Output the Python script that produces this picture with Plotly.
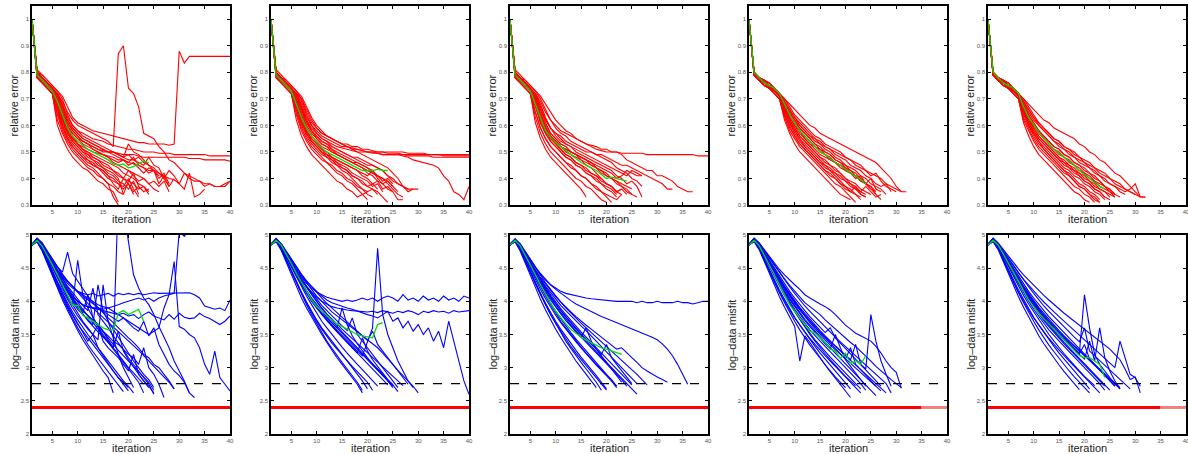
import plotly.graph_objects as go

W, H = 1188, 454

# ---------------- data: relative error (top row) ----------------
rel_err_col1 = [
    [1.0,0.80,0.78,0.76,0.74,0.72,0.69,0.65,0.62,0.60,0.59,0.58,0.57,0.56,0.55,0.54,0.52,0.87,0.90,0.74,0.72,0.67,0.57,0.56,0.55,0.52,0.50,0.47,0.46,0.44,0.42,0.40,0.39,0.39,0.38,0.38,0.37,0.37,0.37,0.39],
    [1.0,0.80,0.79,0.77,0.75,0.73,0.71,0.67,0.63,0.61,0.60,0.59,0.58,0.575,0.57,0.565,0.56,0.555,0.55,0.545,0.54,0.535,0.535,0.53,0.53,0.53,0.53,0.525,0.53,0.88,0.835,0.86,0.86,0.86,0.86,0.86,0.86,0.86,0.86,0.86],
    [1.0,0.79,0.78,0.76,0.74,0.72,0.68,0.63,0.60,0.58,0.57,0.56,0.55,0.545,0.54,0.53,0.525,0.52,0.515,0.51,0.51,0.505,0.50,0.50,0.50,0.495,0.495,0.495,0.49,0.49,0.49,0.49,0.49,0.49,0.49,0.485,0.485,0.485,0.485,0.485],
    [1.0,0.79,0.77,0.75,0.73,0.70,0.64,0.59,0.57,0.55,0.54,0.53,0.52,0.51,0.505,0.50,0.50,0.495,0.49,0.49,0.49,0.485,0.48,0.48,0.48,0.48,0.48,0.48,0.48,0.48,0.48,0.475,0.475,0.475,0.47,0.47,0.47,0.47,0.47,0.465],
    [1.0,0.79,0.77,0.75,0.73,0.69,0.63,0.58,0.55,0.53,0.52,0.51,0.50,0.495,0.49,0.485,0.48,0.47,0.47,0.46,0.455,0.45,0.44,0.43,0.43,0.42,0.41,0.40,0.395,0.38,0.42,0.41,0.40,0.39,0.37,0.38,0.37,0.37,0.38,0.39],
    [1.0,0.78,0.76,0.74,0.72,0.62,0.57,0.53,0.50,0.48,0.46,0.44,0.43,0.41,0.40,0.38,0.37,0.35,0.34],
    [1.0,0.79,0.77,0.75,0.73,0.66,0.60,0.55,0.52,0.50,0.48,0.47,0.45,0.44,0.42,0.40,0.39,0.38,0.36,0.38,0.35,0.37],
    [1.0,0.80,0.78,0.76,0.74,0.71,0.65,0.60,0.57,0.55,0.53,0.52,0.51,0.50,0.49,0.48,0.46,0.45,0.44,0.43,0.42,0.41,0.40,0.38,0.39,0.37,0.39,0.35],
    [1.0,0.80,0.78,0.76,0.74,0.72,0.68,0.62,0.59,0.57,0.55,0.54,0.53,0.52,0.51,0.50,0.50,0.49,0.48,0.53,0.50,0.49,0.47,0.45,0.44,0.42,0.40,0.43,0.41,0.38,0.36,0.42,0.33,0.34,0.36],
    [1.0,0.78,0.76,0.74,0.72,0.64,0.58,0.54,0.51,0.49,0.47,0.45,0.44,0.42,0.40,0.38,0.33,0.30],
    [1.0,0.79,0.77,0.75,0.73,0.70,0.64,0.59,0.56,0.53,0.51,0.50,0.48,0.47,0.46,0.45,0.43,0.42,0.40,0.43,0.41,0.39,0.40,0.38,0.36,0.35],
    [1.0,0.79,0.77,0.75,0.73,0.67,0.61,0.57,0.54,0.52,0.50,0.49,0.47,0.46,0.44,0.43,0.42,0.40,0.34,0.39,0.38,0.36,0.37,0.34],
    [1.0,0.80,0.78,0.76,0.74,0.72,0.67,0.61,0.58,0.56,0.54,0.53,0.51,0.50,0.49,0.48,0.47,0.46,0.47,0.45,0.46,0.44,0.42,0.44,0.43,0.38,0.41,0.37,0.40],
    [1.0,0.78,0.76,0.74,0.72,0.60,0.55,0.51,0.48,0.46,0.44,0.43,0.41,0.39,0.38,0.36,0.35,0.31],
    [1.0,0.80,0.78,0.76,0.74,0.70,0.63,0.58,0.55,0.53,0.51,0.50,0.49,0.48,0.47,0.46,0.45,0.44,0.42,0.41,0.40,0.38,0.37,0.35],
    [1.0,0.79,0.77,0.75,0.73,0.68,0.62,0.57,0.54,0.52,0.50,0.48,0.47,0.45,0.44,0.42,0.41,0.39,0.38,0.36,0.39,0.34],
    [1.0,0.81,0.79,0.77,0.75,0.73,0.70,0.64,0.60,0.58,0.56,0.55,0.54,0.53,0.52,0.51,0.50,0.49,0.48,0.49,0.47,0.48,0.46,0.45,0.43,0.40,0.42,0.38],
    [1.0,0.78,0.76,0.74,0.72,0.65,0.59,0.55,0.52,0.50,0.48,0.46,0.45,0.44,0.43,0.41,0.40,0.38,0.37,0.40,0.36,0.33],
    [1.0,0.80,0.78,0.76,0.74,0.71,0.66,0.61,0.58,0.56,0.54,0.53,0.52,0.51,0.50,0.50,0.49,0.48,0.47,0.46,0.48,0.45,0.44,0.42,0.43,0.41],
    [1.0,0.79,0.77,0.75,0.73,0.69,0.62,0.58,0.55,0.53,0.51,0.49,0.48,0.47,0.45,0.44,0.43,0.41,0.40,0.39,0.42,0.37,0.35,0.36],
    [1.0,0.79,0.77,0.75,0.73,0.67,0.60,0.56,0.53,0.51,0.49,0.47,0.46,0.44,0.43,0.41,0.38,0.36,0.40,0.38,0.34],
    [1.0,0.80,0.78,0.76,0.74,0.72,0.67,0.62,0.59,0.57,0.55,0.54,0.53,0.52,0.51,0.50,0.50,0.49,0.48,0.47,0.47,0.46,0.45,0.48,0.45,0.44,0.40,0.37],
]
rel_err_mean_col1 = [1.0,0.79,0.77,0.75,0.73,0.69,0.64,0.59,0.56,0.54,0.525,0.51,0.50,0.49,0.48,0.47,0.455,0.45,0.455,0.44,0.445,0.455,0.465,0.46]

rel_err_col2 = [
    [1.0,0.80,0.78,0.77,0.75,0.73,0.71,0.67,0.63,0.60,0.58,0.56,0.55,0.54,0.53,0.53,0.52,0.52,0.51,0.51,0.505,0.50,0.50,0.50,0.50,0.50,0.50,0.495,0.495,0.495,0.495,0.49,0.49,0.49,0.49,0.49,0.49,0.49,0.49,0.49],
    [1.0,0.79,0.78,0.76,0.74,0.72,0.69,0.64,0.60,0.58,0.56,0.55,0.54,0.53,0.52,0.52,0.51,0.51,0.505,0.50,0.50,0.50,0.50,0.495,0.495,0.495,0.49,0.49,0.49,0.49,0.49,0.49,0.49,0.49,0.485,0.485,0.485,0.485,0.485,0.485],
    [1.0,0.79,0.77,0.75,0.73,0.71,0.67,0.62,0.59,0.57,0.55,0.54,0.53,0.52,0.515,0.51,0.505,0.50,0.50,0.50,0.495,0.495,0.49,0.49,0.49,0.49,0.49,0.485,0.485,0.485,0.485,0.485,0.48,0.48,0.48,0.48,0.48,0.48,0.48,0.48],
    [1.0,0.80,0.78,0.76,0.74,0.72,0.70,0.65,0.61,0.59,0.57,0.56,0.55,0.54,0.53,0.52,0.515,0.51,0.505,0.50,0.50,0.495,0.49,0.49,0.49,0.49,0.485,0.48,0.47,0.465,0.46,0.455,0.45,0.44,0.41,0.39,0.35,0.34,0.32,0.37],
    [1.0,0.79,0.77,0.75,0.73,0.70,0.66,0.61,0.58,0.56,0.54,0.53,0.52,0.51,0.50,0.49,0.48,0.48,0.47,0.46,0.45,0.44,0.43,0.41,0.39,0.38,0.37,0.36,0.36,0.36],
    [1.0,0.78,0.76,0.74,0.72,0.64,0.58,0.54,0.51,0.49,0.47,0.46,0.44,0.42,0.41,0.39,0.38,0.36,0.34,0.32],
    [1.0,0.79,0.77,0.75,0.73,0.67,0.61,0.57,0.54,0.52,0.50,0.49,0.47,0.46,0.44,0.43,0.41,0.40,0.39,0.37,0.36,0.35,0.33,0.31],
    [1.0,0.80,0.78,0.76,0.74,0.71,0.66,0.61,0.58,0.55,0.53,0.52,0.51,0.49,0.48,0.47,0.46,0.45,0.44,0.43,0.42,0.41,0.40,0.38,0.36,0.34,0.33],
    [1.0,0.79,0.77,0.75,0.73,0.69,0.63,0.58,0.55,0.53,0.51,0.50,0.48,0.47,0.46,0.45,0.44,0.43,0.41,0.40,0.38,0.39,0.36,0.37,0.35,0.32,0.32],
    [1.0,0.78,0.76,0.74,0.72,0.62,0.56,0.52,0.49,0.47,0.45,0.43,0.41,0.39,0.38,0.36,0.35,0.33,0.34,0.35],
    [1.0,0.80,0.78,0.76,0.74,0.72,0.68,0.63,0.60,0.57,0.55,0.54,0.52,0.51,0.50,0.49,0.48,0.47,0.46,0.45,0.45,0.44,0.43,0.41,0.40,0.38,0.37,0.35,0.36],
    [1.0,0.79,0.77,0.75,0.73,0.68,0.62,0.57,0.54,0.52,0.50,0.49,0.48,0.47,0.46,0.45,0.44,0.43,0.42,0.41,0.43,0.40,0.38,0.39,0.37],
    [1.0,0.79,0.77,0.75,0.73,0.66,0.60,0.56,0.53,0.51,0.49,0.48,0.46,0.45,0.43,0.42,0.40,0.38,0.36,0.35,0.36,0.34],
    [1.0,0.80,0.78,0.76,0.74,0.70,0.64,0.59,0.56,0.54,0.52,0.51,0.50,0.49,0.48,0.47,0.46,0.45,0.44,0.42,0.41,0.39,0.38,0.36,0.35],
    [1.0,0.79,0.77,0.75,0.73,0.68,0.61,0.57,0.54,0.52,0.50,0.48,0.47,0.45,0.44,0.43,0.41,0.40,0.38,0.37,0.38,0.36],
    [1.0,0.81,0.79,0.77,0.75,0.73,0.70,0.66,0.62,0.59,0.57,0.56,0.55,0.54,0.53,0.52,0.51,0.50,0.49,0.48,0.47,0.46,0.45,0.44,0.42,0.40,0.37,0.36],
    [1.0,0.78,0.76,0.74,0.72,0.65,0.59,0.55,0.52,0.50,0.48,0.46,0.45,0.43,0.42,0.40,0.39,0.37,0.36,0.34,0.33],
    [1.0,0.80,0.78,0.76,0.74,0.71,0.65,0.60,0.57,0.55,0.53,0.52,0.50,0.49,0.48,0.47,0.46,0.46,0.45,0.44,0.43,0.41,0.40,0.39,0.37,0.35],
    [1.0,0.79,0.77,0.75,0.73,0.69,0.63,0.58,0.55,0.53,0.51,0.49,0.48,0.46,0.45,0.44,0.42,0.41,0.40,0.39,0.37,0.38,0.35],
    [1.0,0.80,0.78,0.76,0.74,0.72,0.67,0.62,0.58,0.56,0.54,0.53,0.51,0.50,0.49,0.48,0.47,0.46,0.45,0.44,0.42,0.41,0.39,0.40,0.38],
]
rel_err_mean_col2 = [1.0,0.79,0.77,0.75,0.73,0.68,0.63,0.59,0.56,0.535,0.515,0.50,0.49,0.48,0.47,0.46,0.45,0.44,0.43,0.43,0.43,0.435,0.43,0.43]

rel_err_col3 = [
    [1.0,0.80,0.78,0.77,0.75,0.73,0.71,0.68,0.65,0.62,0.60,0.58,0.57,0.55,0.54,0.53,0.52,0.51,0.505,0.50,0.50,0.50,0.495,0.495,0.495,0.495,0.495,0.49,0.49,0.49,0.49,0.49,0.49,0.49,0.49,0.49,0.49,0.485,0.485,0.485],
    [1.0,0.80,0.78,0.76,0.74,0.72,0.69,0.65,0.62,0.60,0.58,0.57,0.56,0.55,0.54,0.53,0.525,0.52,0.51,0.51,0.50,0.50,0.49,0.47,0.46,0.45,0.44,0.43,0.43,0.41,0.41,0.40,0.39,0.37,0.36,0.35,0.35],
    [1.0,0.79,0.78,0.76,0.74,0.71,0.67,0.62,0.59,0.57,0.56,0.54,0.53,0.52,0.51,0.50,0.50,0.49,0.49,0.48,0.47,0.46,0.45,0.45,0.44,0.43,0.42,0.41,0.40,0.39,0.38,0.36,0.36],
    [1.0,0.79,0.77,0.75,0.73,0.69,0.64,0.59,0.56,0.54,0.52,0.51,0.50,0.49,0.48,0.47,0.46,0.45,0.44,0.43,0.42,0.40,0.41,0.43,0.42,0.41,0.41],
    [1.0,0.78,0.76,0.74,0.72,0.63,0.57,0.53,0.50,0.48,0.46,0.44,0.42,0.40,0.39,0.37,0.36,0.34,0.32,0.31],
    [1.0,0.79,0.77,0.75,0.73,0.67,0.61,0.57,0.54,0.52,0.50,0.48,0.47,0.45,0.44,0.42,0.41,0.40,0.38,0.36,0.35,0.33],
    [1.0,0.79,0.77,0.75,0.73,0.65,0.59,0.55,0.52,0.50,0.48,0.46,0.45,0.43,0.41,0.40,0.38,0.37,0.35,0.34,0.33,0.32,0.34],
    [1.0,0.80,0.78,0.76,0.74,0.71,0.66,0.61,0.57,0.55,0.53,0.52,0.50,0.49,0.48,0.47,0.46,0.44,0.43,0.41,0.40,0.39,0.37,0.36,0.34,0.33],
    [1.0,0.79,0.77,0.75,0.73,0.70,0.64,0.59,0.56,0.54,0.52,0.50,0.49,0.48,0.47,0.45,0.44,0.42,0.40,0.38,0.37,0.35,0.36,0.34],
    [1.0,0.78,0.76,0.74,0.72,0.61,0.55,0.51,0.48,0.46,0.44,0.42,0.40,0.38,0.36,0.33],
    [1.0,0.80,0.78,0.76,0.74,0.72,0.67,0.62,0.59,0.56,0.54,0.53,0.52,0.50,0.49,0.48,0.47,0.46,0.45,0.44,0.43,0.41,0.40,0.38,0.39,0.37,0.33],
    [1.0,0.79,0.77,0.75,0.73,0.68,0.62,0.58,0.55,0.53,0.51,0.49,0.48,0.46,0.45,0.43,0.42,0.41,0.40,0.38,0.37,0.35,0.36],
    [1.0,0.80,0.78,0.76,0.74,0.70,0.64,0.59,0.56,0.54,0.52,0.51,0.50,0.49,0.47,0.46,0.45,0.44,0.42,0.41,0.40,0.38,0.37,0.35,0.34],
    [1.0,0.79,0.77,0.75,0.73,0.68,0.61,0.57,0.54,0.52,0.50,0.48,0.47,0.45,0.44,0.42,0.41,0.39,0.38,0.37,0.36,0.34],
    [1.0,0.81,0.79,0.77,0.75,0.73,0.70,0.66,0.62,0.59,0.57,0.56,0.54,0.53,0.52,0.51,0.50,0.49,0.48,0.47,0.46,0.44,0.43,0.42,0.40,0.39,0.37],
    [1.0,0.78,0.76,0.74,0.72,0.65,0.59,0.55,0.52,0.50,0.48,0.46,0.44,0.43,0.41,0.40,0.38,0.36,0.35,0.33,0.31],
    [1.0,0.80,0.78,0.76,0.74,0.71,0.65,0.60,0.57,0.55,0.53,0.52,0.50,0.49,0.48,0.47,0.45,0.44,0.43,0.42,0.40,0.39,0.38,0.37,0.36],
    [1.0,0.79,0.77,0.75,0.73,0.69,0.63,0.58,0.55,0.53,0.51,0.49,0.48,0.46,0.45,0.44,0.42,0.41,0.39,0.38,0.37,0.35,0.34],
    [1.0,0.80,0.78,0.76,0.74,0.72,0.68,0.63,0.59,0.57,0.55,0.53,0.52,0.51,0.50,0.49,0.48,0.47,0.46,0.45,0.44,0.43,0.42,0.41,0.43,0.42,0.41],
]
rel_err_mean_col3 = [1.0,0.79,0.77,0.75,0.73,0.68,0.63,0.58,0.555,0.535,0.52,0.505,0.49,0.475,0.46,0.45,0.44,0.43,0.415,0.40,0.405,0.40,0.395,0.39]

rel_err_col4 = [
    [1.0,0.80,0.78,0.77,0.76,0.74,0.72,0.70,0.68,0.66,0.64,0.62,0.60,0.59,0.57,0.56,0.55,0.54,0.53,0.52,0.51,0.50,0.49,0.48,0.47,0.46,0.44,0.42,0.40,0.37,0.35,0.35],
    [1.0,0.80,0.78,0.76,0.75,0.73,0.72,0.67,0.63,0.60,0.57,0.55,0.53,0.51,0.49,0.48,0.47,0.46,0.44,0.43,0.42,0.41,0.39,0.38,0.36],
    [1.0,0.79,0.77,0.76,0.74,0.73,0.71,0.65,0.61,0.57,0.54,0.52,0.50,0.48,0.46,0.44,0.43,0.41,0.39,0.37,0.36,0.34,0.33],
    [1.0,0.80,0.78,0.77,0.75,0.74,0.72,0.69,0.66,0.63,0.61,0.59,0.57,0.55,0.54,0.52,0.51,0.50,0.49,0.48,0.47,0.45,0.44,0.43,0.41,0.42,0.39,0.37,0.36,0.35],
    [1.0,0.79,0.77,0.75,0.74,0.72,0.70,0.63,0.58,0.55,0.52,0.50,0.48,0.46,0.44,0.42,0.40,0.38,0.37,0.35,0.33,0.31],
    [1.0,0.80,0.78,0.76,0.75,0.73,0.71,0.66,0.62,0.59,0.56,0.54,0.52,0.50,0.48,0.47,0.45,0.44,0.42,0.40,0.38,0.37,0.35,0.34],
    [1.0,0.80,0.78,0.77,0.75,0.74,0.72,0.68,0.64,0.61,0.59,0.57,0.55,0.53,0.51,0.50,0.49,0.47,0.46,0.45,0.43,0.42,0.40,0.38,0.37,0.34,0.32],
    [1.0,0.79,0.77,0.76,0.74,0.73,0.71,0.64,0.60,0.56,0.53,0.51,0.49,0.47,0.45,0.43,0.41,0.40,0.38,0.36,0.35,0.37,0.34,0.33],
    [1.0,0.80,0.78,0.77,0.76,0.74,0.72,0.70,0.67,0.64,0.62,0.60,0.58,0.56,0.55,0.53,0.52,0.51,0.50,0.48,0.47,0.46,0.45,0.43,0.42,0.41,0.40,0.38,0.37,0.36,0.35],
    [1.0,0.79,0.77,0.75,0.74,0.72,0.70,0.62,0.57,0.53,0.50,0.48,0.46,0.44,0.42,0.40,0.38,0.36,0.34,0.33,0.32],
    [1.0,0.80,0.78,0.76,0.75,0.73,0.71,0.67,0.63,0.60,0.58,0.55,0.53,0.52,0.50,0.49,0.47,0.46,0.45,0.43,0.42,0.40,0.41,0.38,0.36,0.34],
    [1.0,0.79,0.77,0.76,0.74,0.73,0.71,0.66,0.62,0.58,0.55,0.53,0.51,0.49,0.47,0.45,0.44,0.42,0.41,0.39,0.38,0.36,0.35,0.37,0.35,0.33,0.34],
    [1.0,0.80,0.78,0.77,0.75,0.74,0.72,0.68,0.65,0.62,0.59,0.57,0.55,0.53,0.52,0.50,0.49,0.47,0.46,0.44,0.43,0.41,0.40,0.38,0.37,0.35],
    [1.0,0.79,0.77,0.76,0.74,0.73,0.71,0.65,0.61,0.58,0.55,0.52,0.50,0.48,0.46,0.45,0.43,0.42,0.40,0.39,0.37,0.36,0.34,0.33],
    [1.0,0.80,0.78,0.77,0.76,0.74,0.72,0.69,0.66,0.63,0.60,0.58,0.56,0.54,0.53,0.51,0.50,0.48,0.47,0.45,0.44,0.43,0.41,0.40,0.38,0.37,0.36,0.34],
    [1.0,0.79,0.77,0.75,0.74,0.72,0.70,0.64,0.59,0.56,0.53,0.51,0.49,0.47,0.45,0.43,0.42,0.40,0.38,0.37,0.35,0.34,0.32],
    [1.0,0.80,0.78,0.76,0.75,0.73,0.71,0.67,0.64,0.61,0.58,0.56,0.54,0.52,0.51,0.49,0.48,0.46,0.45,0.44,0.42,0.41,0.39,0.38,0.40,0.36,0.35],
    [1.0,0.80,0.78,0.77,0.75,0.74,0.72,0.69,0.65,0.62,0.60,0.58,0.56,0.55,0.53,0.52,0.51,0.49,0.48,0.47,0.45,0.44,0.43,0.41,0.40,0.38,0.37,0.38,0.35],
    [1.0,0.79,0.77,0.76,0.74,0.73,0.71,0.66,0.62,0.59,0.56,0.54,0.52,0.50,0.48,0.46,0.45,0.43,0.42,0.40,0.39,0.38,0.36,0.35,0.34],
]
rel_err_mean_col4 = [1.0,0.80,0.78,0.76,0.75,0.74,0.72,0.68,0.64,0.61,0.58,0.56,0.54,0.52,0.50,0.49,0.475,0.46,0.45,0.435,0.42,0.41,0.395,0.38]

rel_err_col5 = [
    [1.0,0.80,0.78,0.77,0.76,0.74,0.72,0.70,0.68,0.66,0.64,0.62,0.61,0.59,0.58,0.57,0.56,0.55,0.53,0.52,0.50,0.49,0.47,0.46,0.44,0.42,0.41,0.39,0.37,0.35,0.33,0.33],
    [1.0,0.80,0.78,0.76,0.75,0.73,0.72,0.66,0.62,0.59,0.56,0.54,0.52,0.50,0.48,0.47,0.45,0.44,0.42,0.41,0.39,0.38,0.36,0.35,0.33],
    [1.0,0.79,0.77,0.76,0.74,0.73,0.71,0.64,0.60,0.56,0.53,0.51,0.49,0.47,0.45,0.43,0.41,0.39,0.37,0.36,0.34,0.32,0.31],
    [1.0,0.80,0.78,0.77,0.75,0.74,0.72,0.69,0.65,0.62,0.60,0.58,0.56,0.54,0.53,0.51,0.50,0.48,0.47,0.46,0.44,0.43,0.41,0.40,0.38,0.37,0.36,0.35,0.36,0.38,0.33],
    [1.0,0.79,0.77,0.75,0.74,0.72,0.70,0.62,0.58,0.54,0.51,0.49,0.47,0.45,0.43,0.41,0.39,0.37,0.36,0.34,0.33,0.31],
    [1.0,0.80,0.78,0.76,0.75,0.73,0.71,0.66,0.61,0.58,0.55,0.53,0.51,0.49,0.47,0.46,0.44,0.43,0.41,0.39,0.38,0.36,0.35,0.33,0.32],
    [1.0,0.80,0.78,0.77,0.75,0.74,0.72,0.68,0.64,0.61,0.58,0.56,0.54,0.52,0.51,0.49,0.48,0.46,0.45,0.44,0.42,0.41,0.39,0.37,0.36,0.34,0.33],
    [1.0,0.79,0.77,0.76,0.74,0.73,0.71,0.65,0.60,0.57,0.54,0.51,0.49,0.47,0.45,0.43,0.42,0.40,0.38,0.37,0.35,0.34,0.32],
    [1.0,0.80,0.78,0.77,0.76,0.74,0.72,0.70,0.67,0.64,0.61,0.59,0.57,0.55,0.54,0.52,0.51,0.49,0.48,0.46,0.45,0.44,0.42,0.41,0.40,0.38,0.37,0.36,0.35,0.34],
    [1.0,0.79,0.77,0.75,0.74,0.72,0.70,0.61,0.56,0.52,0.49,0.47,0.45,0.43,0.41,0.39,0.37,0.35,0.34,0.32,0.31],
    [1.0,0.80,0.78,0.76,0.75,0.73,0.71,0.67,0.63,0.60,0.57,0.55,0.53,0.51,0.49,0.48,0.46,0.45,0.43,0.42,0.40,0.39,0.37,0.36,0.35,0.33],
    [1.0,0.79,0.77,0.76,0.74,0.73,0.71,0.67,0.63,0.59,0.56,0.54,0.52,0.50,0.48,0.46,0.45,0.43,0.42,0.40,0.39,0.37,0.36,0.35,0.34,0.33],
    [1.0,0.80,0.78,0.77,0.75,0.74,0.72,0.68,0.64,0.61,0.58,0.56,0.54,0.52,0.51,0.49,0.48,0.46,0.45,0.43,0.42,0.40,0.39,0.37,0.36,0.34],
    [1.0,0.79,0.77,0.76,0.74,0.73,0.71,0.65,0.61,0.57,0.54,0.52,0.50,0.48,0.46,0.44,0.43,0.41,0.40,0.38,0.37,0.35,0.34,0.32],
    [1.0,0.80,0.78,0.77,0.76,0.74,0.72,0.69,0.66,0.63,0.60,0.58,0.56,0.54,0.52,0.51,0.49,0.48,0.46,0.45,0.44,0.42,0.41,0.39,0.38,0.37,0.35,0.34],
    [1.0,0.79,0.77,0.75,0.74,0.72,0.70,0.63,0.59,0.55,0.52,0.50,0.48,0.46,0.44,0.42,0.41,0.39,0.37,0.36,0.34,0.33,0.31],
    [1.0,0.80,0.78,0.76,0.75,0.73,0.71,0.67,0.63,0.60,0.58,0.55,0.53,0.51,0.50,0.48,0.47,0.45,0.44,0.42,0.41,0.39,0.38,0.37,0.35,0.34],
    [1.0,0.80,0.78,0.77,0.75,0.74,0.72,0.69,0.66,0.63,0.61,0.59,0.57,0.55,0.54,0.52,0.51,0.50,0.48,0.47,0.46,0.44,0.43,0.42,0.40,0.39,0.38,0.36,0.35,0.34,0.33,0.33],
    [1.0,0.79,0.77,0.76,0.74,0.73,0.71,0.66,0.62,0.58,0.55,0.53,0.51,0.49,0.47,0.45,0.44,0.42,0.41,0.39,0.38,0.36,0.35,0.33],
]
rel_err_mean_col5 = [1.0,0.80,0.78,0.76,0.75,0.74,0.72,0.67,0.63,0.60,0.575,0.55,0.53,0.51,0.495,0.48,0.465,0.45,0.43,0.415,0.40,0.385,0.37,0.36]

# ---------------- data: log-data misfit (bottom row) ----------------
misfit_col1 = [
    [4.85,4.95,4.88,4.74,4.58,4.42,4.28,4.15,4.02,3.92,3.85,3.78,3.72,3.66,3.55,3.42,3.30,5.60,5.40,4.90,4.40,4.20,4.05,3.95,3.80,3.62,3.45,3.30,3.10,2.95,2.80,2.62],
    [4.85,4.93,4.86,4.72,4.57,4.43,4.30,4.18,4.08,4.00,3.95,3.92,3.90,3.90,3.88,3.90,3.92,3.95,3.98,4.00,4.02,4.05,4.02,4.05,4.00,4.05,4.08,4.10,4.12,5.05,4.98,5.10,5.30,5.30,5.30,5.30,5.30,5.30,5.30,5.30],
    [4.86,4.93,4.85,4.72,4.58,4.46,4.36,4.27,4.20,4.15,4.12,4.10,4.12,4.08,4.10,4.12,4.08,4.12,4.10,4.12,4.10,4.12,4.10,4.12,4.13,4.12,4.12,4.12,4.13,4.12,4.12,4.13,4.10,4.05,3.93,3.90,3.88,3.90,3.86,4.02],
    [4.84,4.92,4.83,4.68,4.52,4.38,4.26,4.15,4.06,4.00,3.95,3.92,3.90,3.88,3.86,3.85,3.82,3.80,3.82,3.78,3.80,3.74,3.80,3.84,3.78,3.75,3.72,3.80,3.73,3.82,3.76,3.74,3.75,3.82,3.77,3.74,3.70,3.65,3.70,3.78],
    [4.85,4.94,4.86,4.73,4.60,4.48,4.38,4.30,4.22,4.15,4.10,4.05,4.00,3.95,3.92,3.90,3.85,3.80,3.75,3.70,3.65,3.60,3.55,3.50,3.55,3.60,3.90,4.10,4.60,3.62,3.58,3.50,3.45,3.30,3.05,2.90,3.25,2.85,2.75,2.65],
    [4.85,4.90,4.78,4.60,4.42,4.25,4.08,3.92,3.78,3.65,3.55,3.45,3.35,3.25,3.15,3.05,2.95,2.85,2.78,2.70],
    [4.84,4.92,4.82,4.66,4.50,4.35,4.20,4.06,3.94,4.62,4.10,3.90,3.75,3.62,3.50,3.40,3.30,3.20,3.10,3.00,2.92,2.84,2.75],
    [4.86,4.93,4.84,4.70,4.55,4.40,4.26,4.12,4.00,3.88,3.80,3.72,3.65,4.25,3.85,3.70,3.58,3.45,3.35,3.22,3.10,3.00,2.90,2.82,2.70],
    [4.85,4.91,4.80,4.62,4.45,4.28,4.12,3.97,3.84,3.72,3.60,3.50,3.40,3.30,3.20,3.10,3.00,2.90,2.80,2.72,2.62],
    [4.85,4.90,4.76,4.57,4.38,4.20,4.02,3.86,3.70,3.56,3.42,3.30,3.18,3.06,2.95,2.85,2.62],
    [4.86,4.94,4.86,4.74,4.62,4.50,4.40,4.30,4.22,4.15,4.08,4.02,3.96,3.90,3.85,3.80,3.75,3.70,3.75,3.68,3.60,3.55,3.70,3.48,3.60,3.35,3.20,3.05,2.95,2.88,2.78,2.62,2.55],
    [4.85,4.92,4.82,4.68,4.54,4.40,4.28,4.16,4.05,3.95,3.86,3.78,3.70,3.62,3.55,3.48,3.40,3.35,3.28,3.20,3.15,3.05,3.30,3.00,2.90,2.75,2.55],
    [4.86,4.95,4.88,4.76,4.64,4.52,4.44,4.74,4.42,4.30,4.18,4.08,3.98,3.90,3.82,3.75,3.68,3.60,3.52,3.45,3.38,3.30,3.20,3.15,3.05,3.00,2.90,2.80,2.68],
    [4.85,4.91,4.79,4.62,4.46,4.30,4.16,4.02,3.90,3.78,3.68,3.58,3.50,3.42,4.25,3.70,3.45,3.20,3.00,2.85,2.70],
    [4.85,4.92,4.82,4.67,4.52,4.37,4.22,4.08,3.95,3.82,3.70,3.60,3.50,3.65,3.40,3.30,3.22,3.15,3.05,2.95,3.20,2.90,2.80,2.70],
    [4.86,4.94,4.85,4.72,4.58,4.45,4.33,4.21,4.10,3.98,3.88,3.78,3.68,3.58,3.48,3.38,3.28,3.18,3.08,2.98,2.88,2.78,2.62],
    [4.85,4.91,4.79,4.62,4.45,4.28,4.11,3.95,3.80,3.66,3.52,3.40,3.50,3.30,3.18,3.06,2.95,2.85,2.75,2.65],
    [4.86,4.93,4.84,4.71,4.58,4.46,4.34,4.23,4.13,4.03,3.94,3.86,4.20,3.80,3.70,3.60,3.48,3.38,3.27,3.15,3.05,2.95,2.85,2.75,2.60],
    [4.85,4.92,4.83,4.69,4.55,4.41,4.27,4.14,4.02,3.91,3.81,3.71,3.62,3.54,3.46,3.38,3.30,3.55,3.25,3.12,3.00,2.90,2.80,2.72,2.62],
    [4.85,4.90,4.77,4.58,4.40,4.22,4.05,3.89,3.74,3.60,3.47,3.35,3.24,3.14,3.04,2.94,2.84,2.74,2.64],
    [4.86,4.95,4.87,4.75,4.63,4.52,4.41,4.31,4.22,4.13,4.05,3.97,3.90,3.83,3.76,3.69,3.62,3.55,3.48,3.41,3.34,3.26,3.18,3.10,3.02,2.94,2.86,2.78,2.68],
    [4.85,4.93,4.84,4.70,4.56,4.42,4.29,4.16,4.04,3.93,3.82,4.10,3.75,3.64,3.54,3.44,3.35,3.26,3.18,3.10,3.02,2.94,2.86,2.78,2.66],
]
misfit_mean_col1 = [4.85,4.92,4.83,4.70,4.55,4.40,4.25,4.10,3.94,3.94,3.79,3.75,3.70,3.65,3.60,3.57,3.57,3.82,3.86,3.80,3.84,3.88,3.70]

misfit_col2 = [
    [4.85,4.93,4.86,4.73,4.60,4.48,4.37,4.27,4.20,4.14,4.10,4.06,4.04,4.02,4.00,4.02,4.00,4.02,4.05,4.02,4.05,4.00,4.05,4.08,4.05,4.00,4.10,4.02,4.05,4.00,4.08,4.02,4.05,4.00,4.08,4.02,4.05,4.00,4.08,4.05],
    [4.85,4.92,4.84,4.70,4.56,4.44,4.32,4.22,4.14,4.06,4.00,3.96,3.92,3.90,3.88,3.87,3.86,3.85,3.85,3.84,3.85,3.83,3.86,3.84,3.82,3.85,3.83,3.86,3.84,3.80,3.85,3.83,3.86,3.84,3.85,3.82,3.86,3.84,3.85,3.86],
    [4.86,4.94,4.87,4.75,4.62,4.50,4.40,4.30,4.22,4.15,4.08,4.02,3.98,3.95,3.92,3.90,3.88,3.85,3.82,3.80,3.78,3.75,3.80,3.85,3.70,3.75,3.60,3.70,3.55,3.65,3.50,3.60,3.40,3.55,3.30,3.70,3.40,3.10,2.80,2.60],
    [4.85,4.92,4.82,4.67,4.52,4.38,4.25,4.12,4.00,3.90,3.80,3.72,3.64,3.56,3.48,3.40,3.32,3.25,3.18,3.40,3.60,4.80,3.80,3.50,3.30,3.10,2.95,2.80,2.70],
    [4.85,4.91,4.80,4.63,4.46,4.30,4.14,3.99,3.85,3.72,3.60,3.50,3.40,3.30,3.20,3.10,3.00,2.90,2.80,2.68],
    [4.86,4.93,4.84,4.70,4.56,4.42,4.29,4.16,4.05,3.95,3.85,3.76,3.68,3.60,3.52,3.44,3.36,3.28,3.20,3.12,3.04,2.96,2.88,2.80,2.70],
    [4.85,4.90,4.77,4.59,4.40,4.22,4.05,3.90,3.76,3.62,3.50,3.38,3.26,3.15,3.05,2.95,2.85,2.75,2.62],
    [4.85,4.92,4.82,4.68,4.53,4.39,4.26,4.13,4.01,3.90,3.82,3.74,3.67,3.60,3.90,3.65,3.48,3.36,3.25,3.15,3.05,2.98,2.90,2.80,2.72],
    [4.86,4.94,4.86,4.74,4.62,4.50,4.39,4.28,4.18,4.08,4.00,3.92,3.84,3.78,3.72,3.66,3.60,3.54,3.48,3.42,3.36,3.30,3.22,3.14,3.05,2.96,2.88,2.80,2.72,2.62],
    [4.85,4.91,4.79,4.62,4.45,4.28,4.12,3.97,3.83,3.70,3.58,3.47,3.37,3.28,3.19,3.10,3.02,2.94,2.86,2.78,2.66],
    [4.85,4.92,4.83,4.69,4.55,4.41,4.28,4.15,4.03,3.92,3.82,3.72,3.63,3.54,3.46,3.38,3.30,3.22,3.45,3.25,3.12,3.02,2.92,2.82,2.74],
    [4.86,4.93,4.85,4.72,4.59,4.46,4.34,4.22,4.11,4.00,3.90,3.81,3.73,3.65,3.58,3.51,3.44,3.37,3.30,3.23,3.16,3.09,3.02,2.95,2.88,2.81,2.73],
    [4.85,4.92,4.82,4.67,4.52,4.37,4.22,4.08,3.95,3.82,3.70,3.60,3.50,3.40,3.31,3.22,3.13,3.05,2.97,2.89,2.81,2.72],
    [4.86,4.94,4.85,4.72,4.58,4.45,4.33,4.21,4.10,3.99,3.89,3.80,3.71,3.62,3.54,3.46,3.38,3.30,3.22,3.14,3.06,2.98,2.90,2.82,2.74,2.64],
    [4.85,4.91,4.79,4.62,4.45,4.28,4.11,3.95,3.80,3.66,3.52,3.40,3.29,3.18,3.08,2.98,2.88,2.78,2.66],
    [4.86,4.93,4.84,4.71,4.58,4.46,4.34,4.23,4.13,4.03,3.94,3.86,3.78,3.70,3.63,3.56,3.75,3.50,3.40,3.30,3.20,3.10,3.00,2.90,2.80,2.70],
    [4.85,4.92,4.83,4.69,4.55,4.41,4.27,4.14,4.02,3.91,3.81,3.71,3.62,3.54,3.46,3.38,3.30,3.22,3.14,3.06,2.98,2.90,2.82,2.74],
    [4.86,4.95,4.87,4.75,4.63,4.52,4.41,4.31,4.22,4.13,4.05,3.97,3.90,3.83,3.76,3.69,3.62,3.55,3.48,3.41,3.55,3.35,3.25,3.15,3.05,2.95,2.85,2.75],
]
misfit_mean_col2 = [4.85,4.92,4.85,4.72,4.57,4.42,4.28,4.14,4.02,3.92,3.85,3.78,3.72,3.66,3.62,3.58,3.54,3.50,3.48,3.46,3.45,3.65,3.68]

misfit_col3 = [
    [4.85,4.93,4.86,4.74,4.62,4.50,4.40,4.32,4.25,4.20,4.15,4.12,4.10,4.08,4.06,4.05,4.04,4.03,4.02,4.02,4.00,4.00,4.00,4.00,4.00,3.98,4.00,3.98,3.98,4.00,3.98,3.98,3.98,4.00,3.98,3.98,3.96,3.98,4.00,4.00],
    [4.86,4.94,4.87,4.75,4.63,4.52,4.42,4.33,4.25,4.18,4.12,4.06,4.01,3.96,3.92,3.88,3.84,3.80,3.77,3.74,3.71,3.68,3.65,3.62,3.59,3.56,3.53,3.50,3.46,3.42,3.36,3.28,3.18,3.05,2.90,2.75],
    [4.85,4.93,4.85,4.72,4.59,4.47,4.36,4.26,4.16,4.07,3.99,3.91,3.84,3.77,3.70,3.64,3.58,3.52,3.46,3.40,3.34,3.28,3.30,3.22,3.15,3.08,3.00,2.95,2.90,2.86,2.82,2.78],
    [4.85,4.91,4.79,4.62,4.45,4.28,4.12,3.97,3.83,3.70,3.58,3.47,3.36,3.26,3.16,3.06,2.97,2.88,2.78,2.68],
    [4.85,4.92,4.82,4.67,4.52,4.37,4.23,4.10,3.97,3.85,3.74,3.63,3.53,3.43,3.34,3.25,3.16,3.07,2.98,2.90,2.82,2.72],
    [4.86,4.93,4.84,4.71,4.57,4.44,4.31,4.19,4.07,3.96,3.86,3.76,3.67,3.58,3.49,3.40,3.32,3.24,3.16,3.08,3.00,2.92,2.85,2.77,2.68,2.60],
    [4.85,4.90,4.76,4.57,4.38,4.20,4.03,3.87,3.72,3.58,3.45,3.33,3.21,3.10,3.00,2.90,2.80,2.70],
    [4.85,4.92,4.83,4.69,4.55,4.41,4.28,4.16,4.04,3.93,3.83,3.73,3.64,3.55,3.46,3.60,3.40,3.28,3.18,3.08,2.98,2.88,2.78],
    [4.86,4.94,4.86,4.74,4.62,4.50,4.39,4.28,4.18,4.08,3.99,3.90,3.82,3.74,3.67,3.60,3.53,3.46,3.40,3.33,3.26,3.19,3.12,3.05,2.98,2.90,2.82,2.74],
    [4.85,4.91,4.81,4.65,4.49,4.33,4.18,4.04,3.91,3.79,3.68,3.58,3.48,3.39,3.30,3.21,3.12,3.04,2.96,2.88,2.80,2.70],
    [4.85,4.92,4.84,4.70,4.56,4.42,4.30,4.18,4.07,3.96,3.86,3.77,3.68,3.59,3.51,3.43,3.35,3.27,3.20,3.35,3.15,3.05,2.95,2.85,2.76],
    [4.85,4.92,4.82,4.67,4.52,4.37,4.22,4.08,3.95,3.82,3.70,3.60,3.50,3.40,3.31,3.22,3.13,3.05,2.97,2.89,2.81,2.72],
    [4.86,4.94,4.85,4.72,4.58,4.45,4.33,4.21,4.10,3.99,3.89,3.80,3.71,3.62,3.54,3.46,3.38,3.30,3.22,3.14,3.06,2.98,2.90,2.82,2.74],
    [4.85,4.91,4.79,4.62,4.45,4.28,4.11,3.95,3.80,3.66,3.52,3.40,3.29,3.18,3.08,2.98,2.88,2.78,2.66],
    [4.86,4.93,4.84,4.71,4.58,4.46,4.34,4.23,4.13,4.03,3.94,3.86,3.78,3.70,3.63,3.56,3.48,3.40,3.32,3.24,3.16,3.08,3.00,2.92,2.84,2.76],
    [4.85,4.92,4.83,4.69,4.55,4.41,4.27,4.14,4.02,3.91,3.81,3.71,3.62,3.54,3.46,3.38,3.30,3.22,3.14,3.06,2.98,2.90,2.82,2.72],
    [4.85,4.90,4.78,4.60,4.43,4.26,4.10,3.94,3.80,3.67,3.55,3.43,3.32,3.22,3.12,3.03,2.94,2.85,2.76,2.66],
]
misfit_mean_col3 = [4.85,4.92,4.84,4.70,4.55,4.40,4.25,4.10,3.97,3.85,3.75,3.66,3.58,3.52,3.46,3.42,3.38,3.35,3.30,3.28,3.25,3.22,3.20]

misfit_col4 = [
    [4.86,4.95,4.88,4.77,4.66,4.55,4.44,4.34,4.24,4.15,4.06,3.98,3.92,3.86,3.80,3.72,3.65,3.58,3.52,3.45,3.38,3.32,3.25,3.18,3.10,3.02,2.95,2.88,2.82,2.76,2.70],
    [4.85,4.93,4.84,4.70,4.55,4.40,4.25,4.11,3.98,3.85,3.73,3.62,3.52,3.42,3.33,3.24,3.16,3.08,3.00,2.92,2.84,2.76,2.68],
    [4.85,4.91,4.80,4.63,4.46,4.29,4.13,3.98,3.83,3.70,3.57,3.45,3.34,3.24,3.14,3.04,2.95,2.86,2.78,2.70],
    [4.86,4.94,4.86,4.73,4.60,4.47,4.35,4.23,4.12,4.01,3.91,3.82,3.73,3.64,3.56,3.48,3.40,3.33,3.26,3.19,3.12,3.35,3.05,2.98,3.80,3.40,3.10,2.90,2.72],
    [4.85,4.92,4.82,4.67,4.52,4.37,4.23,4.09,3.96,3.84,3.72,3.61,3.50,3.40,3.30,3.21,3.12,3.03,2.95,2.87,2.80,2.73],
    [4.85,4.90,4.78,4.60,4.42,4.24,4.07,3.91,3.76,3.62,3.10,3.48,3.38,3.26,3.15,3.04,2.94,2.84,2.74,2.64,2.55],
    [4.86,4.93,4.85,4.72,4.58,4.45,4.32,4.20,4.08,3.97,3.87,3.77,3.68,3.59,3.50,3.42,3.34,3.27,3.20,3.13,3.06,2.99,2.92,2.85,2.78,2.72,2.65],
    [4.85,4.92,4.83,4.69,4.55,4.41,4.28,4.15,4.03,3.92,3.81,3.71,3.62,3.53,3.44,3.36,3.28,3.50,3.30,3.12,3.02,2.92,2.82,2.72],
    [4.86,4.95,4.88,4.78,4.67,4.57,4.48,4.40,4.32,4.25,4.18,4.10,4.05,4.00,3.96,3.92,3.87,3.80,3.72,3.64,3.58,3.52,3.48,3.44,3.40,3.32,3.22,3.10,3.00,2.93,2.69],
    [4.85,4.91,4.79,4.62,4.45,4.29,4.14,4.00,3.87,3.75,3.64,3.54,3.44,3.35,3.26,3.18,3.10,3.02,2.94,2.86,2.78,2.70,2.62],
    [4.85,4.92,4.84,4.71,4.58,4.45,4.32,4.20,4.09,3.98,3.88,3.79,3.70,3.62,3.54,3.46,3.39,3.32,3.25,3.18,3.11,3.04,2.97,2.90,2.83,2.76,2.68,2.62],
    [4.85,4.92,4.83,4.69,4.55,4.41,4.27,4.13,4.00,3.88,3.77,3.67,3.57,3.48,3.40,3.32,3.24,3.16,3.08,3.00,2.92,2.84,2.76,2.66],
    [4.86,4.94,4.86,4.74,4.62,4.50,4.38,4.26,4.15,4.05,3.95,3.86,3.77,3.69,3.61,3.53,3.60,3.45,3.37,3.29,3.21,3.13,3.05,2.97,2.89,2.80,2.72],
    [4.85,4.91,4.80,4.64,4.48,4.32,4.17,4.03,3.89,3.76,3.64,3.53,3.42,3.32,3.22,3.13,3.04,2.95,2.86,2.78,2.68],
    [4.86,4.93,4.85,4.72,4.59,4.46,4.34,4.22,4.10,3.99,3.89,3.79,3.70,3.61,3.53,3.45,3.37,3.29,3.21,3.13,3.30,3.05,2.97,2.89,2.80,2.72],
    [4.85,4.92,4.84,4.71,4.57,4.43,4.30,4.17,4.05,3.94,3.83,3.73,3.64,3.55,3.46,3.38,3.30,3.22,3.14,3.06,2.98,2.90,2.82,2.74,2.66,2.58],
    [4.86,4.95,4.87,4.76,4.65,4.54,4.43,4.32,4.22,4.12,4.02,3.93,3.85,3.77,3.69,3.61,3.53,3.46,3.39,3.32,3.25,3.18,3.11,3.04,2.97,2.90,2.83,2.76,2.62],
]
misfit_mean_col4 = [4.85,4.92,4.84,4.70,4.55,4.40,4.25,4.10,3.95,3.85,3.75,3.65,3.55,3.52,3.45,3.38,3.28,3.25,3.14,3.22,3.06,3.10,3.05,3.18]

misfit_col5 = [
    [4.86,4.95,4.88,4.78,4.68,4.58,4.49,4.40,4.32,4.24,4.16,4.09,4.02,3.95,3.88,3.82,3.76,3.70,3.64,3.58,3.52,3.46,3.40,3.34,3.28,3.20,3.12,2.98,2.82,2.86,2.62],
    [4.85,4.93,4.85,4.72,4.58,4.44,4.31,4.18,4.06,3.95,3.85,3.75,3.66,3.58,3.50,3.43,3.36,3.29,3.22,4.10,3.60,3.20,3.05,2.95,2.85,2.75],
    [4.85,4.91,4.80,4.63,4.46,4.29,4.13,3.98,3.83,3.70,3.57,3.45,3.34,3.24,3.14,3.04,2.95,2.86,2.78,2.70,2.62],
    [4.86,4.94,4.86,4.73,4.60,4.47,4.35,4.23,4.12,4.01,3.91,3.82,3.73,3.64,3.56,3.48,3.40,3.33,3.26,3.19,3.12,3.05,2.98,2.91,2.84,2.77,2.70],
    [4.85,4.92,4.82,4.67,4.52,4.37,4.23,4.09,3.96,3.84,3.72,3.61,3.50,3.40,3.30,3.21,3.12,3.03,2.95,2.87,2.80,2.73],
    [4.85,4.90,4.78,4.60,4.42,4.24,4.07,3.91,3.76,3.62,3.48,3.36,3.25,3.14,3.04,2.94,2.85,2.76,2.67],
    [4.86,4.93,4.85,4.72,4.58,4.45,4.32,4.20,4.08,3.97,3.87,3.77,3.68,3.59,3.50,3.42,3.34,3.27,3.20,3.13,3.40,3.10,3.60,3.15,2.95,2.80,2.68],
    [4.85,4.92,4.83,4.69,4.55,4.41,4.28,4.15,4.03,3.92,3.81,3.71,3.62,3.53,3.44,3.36,3.28,3.20,3.12,3.04,2.96,2.88,2.80,2.72],
    [4.86,4.95,4.87,4.76,4.64,4.53,4.43,4.33,4.24,4.15,4.07,3.99,3.91,3.84,3.77,3.70,3.63,3.56,3.49,3.42,3.35,3.28,3.21,3.14,3.07,3.00,3.40,3.15,2.90,2.85,2.72],
    [4.85,4.91,4.79,4.62,4.45,4.29,4.14,4.00,3.87,3.75,3.64,3.54,3.44,3.35,3.26,3.18,3.10,3.02,2.94,2.86,2.78,2.70,2.62],
    [4.85,4.92,4.84,4.71,4.58,4.45,4.32,4.20,4.09,3.98,3.88,3.79,3.70,3.62,3.54,3.46,3.39,3.32,3.25,3.18,3.11,3.04,2.97,2.90,2.83,2.76,2.68],
    [4.85,4.92,4.83,4.69,4.55,4.41,4.27,4.13,4.00,3.88,3.77,3.67,3.57,3.48,3.40,3.32,3.24,3.16,3.08,3.00,2.92,2.84,2.76,2.66],
    [4.86,4.94,4.86,4.74,4.62,4.50,4.38,4.26,4.15,4.05,3.95,3.86,3.77,3.69,3.61,3.53,3.45,3.37,3.29,3.21,3.13,3.05,2.97,2.89,2.80,2.72],
    [4.85,4.91,4.80,4.64,4.48,4.32,4.17,4.03,3.89,3.76,3.64,3.53,3.42,3.32,3.22,3.13,3.04,2.95,2.86,2.78,2.68],
    [4.86,4.93,4.85,4.72,4.59,4.46,4.34,4.22,4.10,3.99,3.89,3.79,3.70,3.61,3.53,3.45,3.37,3.29,3.21,3.35,3.13,3.05,2.97,2.89,2.80,2.72],
    [4.85,4.92,4.84,4.71,4.57,4.43,4.30,4.17,4.05,3.94,3.83,3.73,3.64,3.55,3.46,3.38,3.30,3.22,3.14,3.06,2.98,2.90,2.82,2.74,2.66],
    [4.86,4.95,4.87,4.76,4.65,4.54,4.43,4.32,4.22,4.12,4.02,3.93,3.85,3.77,3.69,3.61,3.53,3.46,3.39,3.60,3.25,3.18,3.11,3.04,2.97,2.90,2.83,2.76,2.68],
]
misfit_mean_col5 = [4.85,4.92,4.85,4.72,4.58,4.44,4.30,4.15,4.02,3.92,3.82,3.74,3.66,3.58,3.50,3.42,3.34,3.25,3.18,3.15,3.15,3.10,3.05,2.85]

misfit_target = 2.4
misfit_tolerance = 2.76
target_solid_end = [40, 40, 40, 35, 35]   # where the solid red target line ends per column
iteration_range = [1, 40]
rel_err_range = [0.3, 1.05]
misfit_range = [2, 5]
iter_ticks = [5, 10, 15, 20, 25, 30, 35, 40]
rel_err_ticks = [0.3, 0.4, 0.5, 0.6, 0.7, 0.8, 0.9, 1.0]
rel_err_tick_labels = ["0.3", "0.4", "0.5", "0.6", "0.7", "0.8", "0.9", "1"]
misfit_ticks = [2, 2.5, 3, 3.5, 4, 4.5, 5]
misfit_tick_labels = ["2", "2.5", "3", "3.5", "4", "4.5", "5"]

top_series = [rel_err_col1, rel_err_col2, rel_err_col3, rel_err_col4, rel_err_col5]
top_means = [rel_err_mean_col1, rel_err_mean_col2, rel_err_mean_col3, rel_err_mean_col4, rel_err_mean_col5]
bot_series = [misfit_col1, misfit_col2, misfit_col3, misfit_col4, misfit_col5]
bot_means = [misfit_mean_col1, misfit_mean_col2, misfit_mean_col3, misfit_mean_col4, misfit_mean_col5]

# ---------------- layout geometry (pixels) ----------------
lefts_px = [32, 271, 510, 749, 988]
plot_w = 198
top_row_px = (6, 205)
bot_row_px = (235, 434)

RED = "#ff0000"
BLUE = "#0000ff"
GREEN = "#00dd00"
FONT = "Liberation Sans, Arial, sans-serif"

fig = go.Figure()
layout = dict(
    width=W, height=H,
    margin=dict(l=0, r=0, t=0, b=0),
    paper_bgcolor="white", plot_bgcolor="white",
    showlegend=False,
    font=dict(family=FONT, color="#222"),
)
annotations = []


def axref(k):
    return ("x" if k == 1 else f"x{k}"), ("y" if k == 1 else f"y{k}")


def add_axes(k, col, row_px, yr, yticks, ylabels, ytitle):
    x0 = lefts_px[col] / W
    x1 = (lefts_px[col] + plot_w) / W
    y0 = (H - row_px[1]) / H
    y1 = (H - row_px[0]) / H
    xa, ya = axref(k)
    common = dict(showline=True, linecolor="black", linewidth=1.5, mirror="ticks",
                  ticks="inside", ticklen=3, tickwidth=1, tickcolor="black",
                  showgrid=False, zeroline=False, automargin=False,
                  ticklabeloverflow="allow",
                  tickfont=dict(size=6, color="#555", family=FONT))
    layout["xaxis" if k == 1 else f"xaxis{k}"] = dict(
        common, domain=[x0, x1], range=iteration_range, anchor=ya,
        tickvals=iter_ticks, ticktext=[str(t) for t in iter_ticks])
    layout["yaxis" if k == 1 else f"yaxis{k}"] = dict(
        common, domain=[y0, y1], range=yr, anchor=xa,
        tickvals=yticks, ticktext=ylabels)
    annotations.append(dict(text="iteration", xref="paper", yref="paper",
                            x=(lefts_px[col] + plot_w / 2) / W,
                            y=(H - row_px[1] - 14) / H,
                            xanchor="center", yanchor="middle", showarrow=False,
                            font=dict(size=11, color="#222", family=FONT)))
    annotations.append(dict(text=ytitle, xref="paper", yref="paper", textangle=-90,
                            x=(lefts_px[col] - 18) / W,
                            y=(H - (row_px[0] + row_px[1]) / 2) / H,
                            xanchor="center", yanchor="middle", showarrow=False,
                            font=dict(size=11, color="#222", family=FONT)))


for col in range(5):
    # top row
    k = col + 1
    xa, ya = axref(k)
    for s in top_series[col]:
        fig.add_trace(go.Scatter(x=list(range(1, len(s) + 1)), y=s, mode="lines",
                                 line=dict(color=RED, width=1.1), xaxis=xa, yaxis=ya,
                                 hoverinfo="skip"))
    m = top_means[col]
    fig.add_trace(go.Scatter(x=list(range(1, len(m) + 1)), y=m, mode="lines",
                             line=dict(color=GREEN, width=1.3), xaxis=xa, yaxis=ya,
                             hoverinfo="skip"))
    add_axes(k, col, top_row_px, rel_err_range, rel_err_ticks, rel_err_tick_labels,
             "relative error")

    # bottom row
    k = col + 6
    xa, ya = axref(k)
    for s in bot_series[col]:
        fig.add_trace(go.Scatter(x=list(range(1, len(s) + 1)), y=s, mode="lines",
                                 line=dict(color=BLUE, width=1.1), xaxis=xa, yaxis=ya,
                                 hoverinfo="skip"))
    m = bot_means[col]
    fig.add_trace(go.Scatter(x=list(range(1, len(m) + 1)), y=m, mode="lines",
                             line=dict(color=GREEN, width=1.3), xaxis=xa, yaxis=ya,
                             hoverinfo="skip"))
    fig.add_trace(go.Scatter(x=iteration_range, y=[misfit_tolerance] * 2, mode="lines",
                             line=dict(color="black", width=1.2, dash="dash"),
                             xaxis=xa, yaxis=ya, hoverinfo="skip"))
    end = target_solid_end[col]
    fig.add_trace(go.Scatter(x=[iteration_range[0], end], y=[misfit_target] * 2, mode="lines",
                             line=dict(color=RED, width=3), xaxis=xa, yaxis=ya,
                             hoverinfo="skip"))
    if end < iteration_range[1]:
        fig.add_trace(go.Scatter(x=[end, iteration_range[1]], y=[misfit_target] * 2,
                                 mode="lines", line=dict(color="#f08080", width=3),
                                 xaxis=xa, yaxis=ya, hoverinfo="skip"))
    add_axes(k, col, bot_row_px, misfit_range, misfit_ticks, misfit_tick_labels,
             "log–data misfit")

layout["annotations"] = annotations
fig.update_layout(**layout)
fig.write_html("out.html",
               config={"displayModeBar": False},
               post_script="document.body.style.margin='0';document.body.style.overflow='hidden';")
